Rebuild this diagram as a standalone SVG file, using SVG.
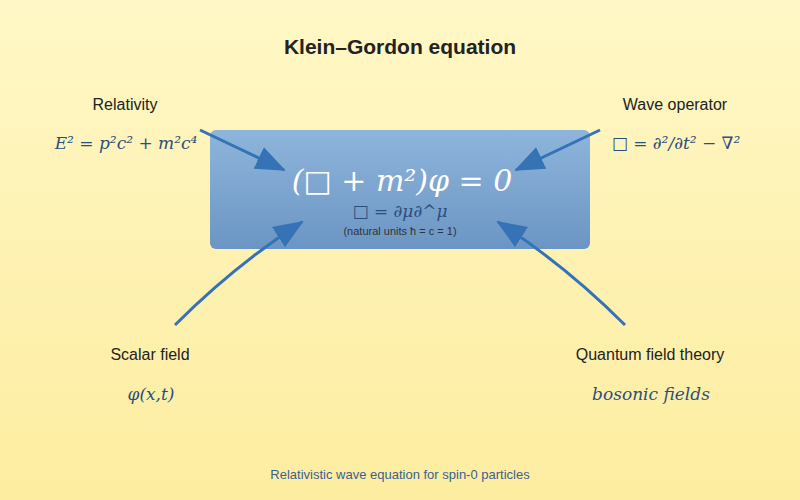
<svg xmlns="http://www.w3.org/2000/svg" width="800" height="500" viewBox="0 0 800 500">
<defs>
<linearGradient id="bg" x1="0" y1="0" x2="0" y2="1"><stop offset="0" stop-color="#fff7c6"/><stop offset="1" stop-color="#fdeda0"/></linearGradient>
<linearGradient id="box" x1="0" y1="0" x2="0" y2="1"><stop offset="0" stop-color="#8eb5db"/><stop offset="1" stop-color="#6b95c4"/></linearGradient>
<style>
.lbl{font-family:"Liberation Sans",Arial,sans-serif;font-size:16px;fill:#222;text-anchor:middle}
.math{font-family:"DejaVu Serif",serif;font-style:italic;fill:#2b4f7d;text-anchor:middle}
.conn{fill:none;stroke:#3572b6;stroke-width:3}
</style>
<marker id="a2" markerWidth="30" markerHeight="30" refX="28" refY="12" orient="auto" markerUnits="userSpaceOnUse" viewBox="0 0 30 24"><path d="M0,0 L30,12 L0,24 z" fill="#3572b6"/></marker>
</defs>
<rect width="800" height="500" fill="url(#bg)"/>
<text x="400" y="54" font-family="Liberation Sans,Arial,sans-serif" font-size="21" font-weight="bold" fill="#222" text-anchor="middle">Klein–Gordon equation</text>
<g id="center">
<rect x="210" y="130" width="380" height="119" rx="6" fill="url(#box)"/>
<text x="402" y="191" class="math" font-size="30" style="fill:#fff">(□ + m²)φ = 0</text>
<text x="400" y="217" class="math" font-size="17">□ = ∂μ∂^μ</text>
<text x="400" y="235" font-family="Liberation Sans,Arial,sans-serif" font-size="11" fill="#333" text-anchor="middle">(natural units ħ = c = 1)</text>
</g>
<g id="relativity">
<text x="125" y="110" class="lbl">Relativity</text>
<text x="126" y="149" class="math" font-size="17">E² = p²c² + m²c⁴</text>
</g>
<g id="wave">
<text x="675" y="110" class="lbl">Wave operator</text>
<text x="676" y="149" class="math" font-size="17">□ = ∂²/∂t² − ∇²</text>
</g>
<g id="scalar">
<text x="150" y="360" class="lbl">Scalar field</text>
<text x="151" y="400" class="math" font-size="17">φ(x,t)</text>
</g>
<g id="qft">
<text x="650" y="360" class="lbl">Quantum field theory</text>
<text x="651" y="400" class="math" font-size="17">bosonic fields</text>
</g>
<g id="connectors">
<path class="conn" d="M200,130 L284,170" marker-end="url(#a2)"/>
<path class="conn" d="M600,130 L516,170" marker-end="url(#a2)"/>
<path class="conn" d="M175,325 Q235,265 302,222" marker-end="url(#a2)"/>
<path class="conn" d="M625,325 Q565,265 498,222" marker-end="url(#a2)"/>
</g>
<text x="400" y="479" font-family="Liberation Sans,Arial,sans-serif" font-size="13" fill="#3a5f95" text-anchor="middle">Relativistic wave equation for spin-0 particles</text>
</svg>
